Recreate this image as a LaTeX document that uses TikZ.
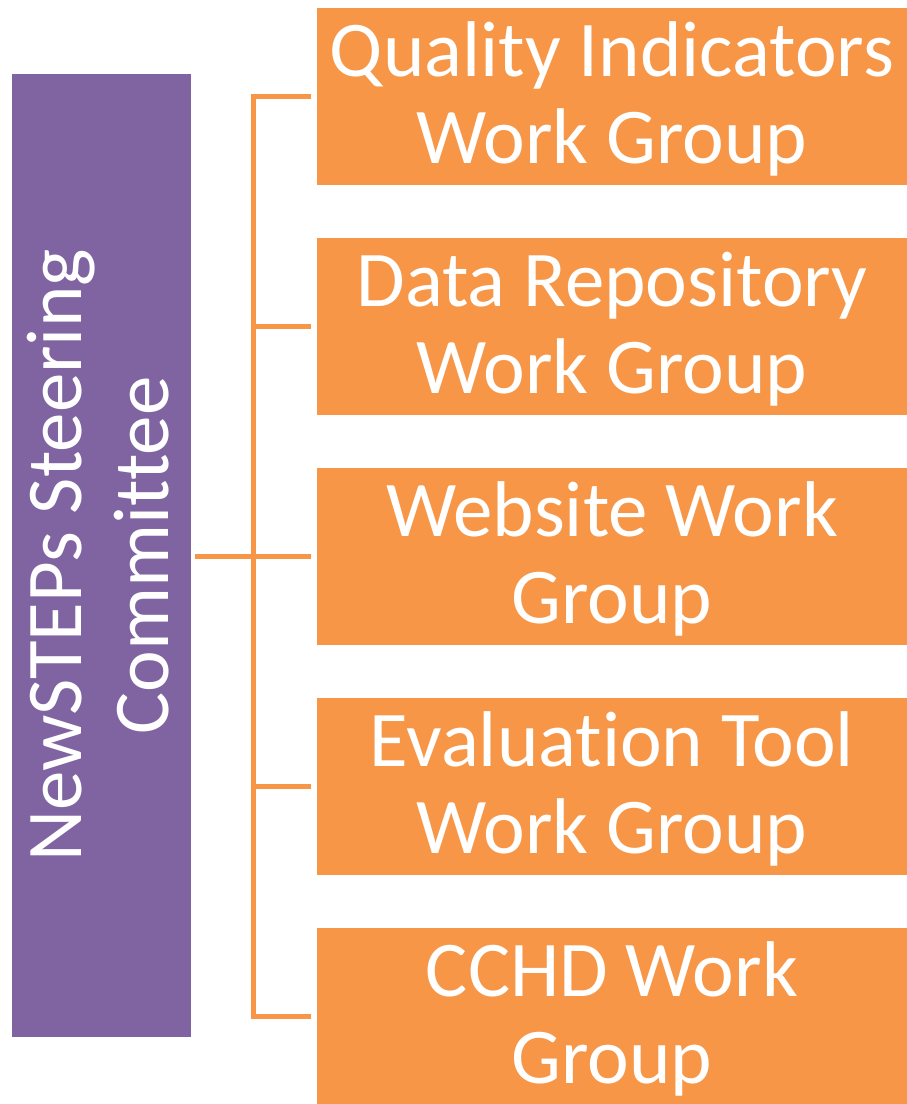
\documentclass[tikz,border=0pt]{standalone}
\usepackage{fontspec}
\setmainfont{Carlito}[Ligatures={NoCommon,NoContextual,NoRequired},RawFeature={-liga;-clig;-dlig;-calt}]
\definecolor{scpurple}{HTML}{8064A2}
\definecolor{wgorange}{HTML}{F79646}
\newcommand{\ls}{\rule[-17pt]{0pt}{81pt}}
\begin{document}
\begin{tikzpicture}[x=1pt,y=-1pt,
  txt/.style={text=white, font=\fontsize{79}{87}\selectfont, align=center, inner sep=0pt},
  wg/.style={txt, fill=wgorange, minimum width=591pt, minimum height=177pt},
  conn/.style={draw=wgorange, line width=5pt}]
\useasboundingbox (0,0) rectangle (907,1104);
\node[txt, fill=scpurple, rotate=90, minimum width=963pt, minimum height=178.5pt] (sc) at (101.25,555.5) {\ls NewSTEPs Steering\\Committee\ls};
\node[wg] (w1) at (612,96.5) {\ls Quality Indicators\\Work Group\ls};
\node[wg] (w2) at (612,326.5) {\ls Data Repository\\Work Group\ls};
\node[wg] (w3) at (612,556.5) {\ls Website Work\\Group\ls};
\node[wg] (w4) at (612,786.5) {\ls Evaluat\kern0pt ion Tool\\Work Group\ls};
\node[wg] (w5) at (612,1016.5) {\ls CCHD Work\\Group\ls};
\coordinate (trunk) at (253,0);
\draw[conn] ([xshift=-5.5pt]w1.west) -- (w1.west -| trunk) -- (w5.west -| trunk) -- ([xshift=-5.5pt]w5.west);
\draw[conn] (w2.west -| trunk) -- ([xshift=-5.5pt]w2.west);
\draw[conn] (w4.west -| trunk) -- ([xshift=-5.5pt]w4.west);
\draw[conn] ([xshift=4.5pt]sc.south |- w3.west) -- ([xshift=-5.5pt]w3.west);
\end{tikzpicture}
\end{document}
